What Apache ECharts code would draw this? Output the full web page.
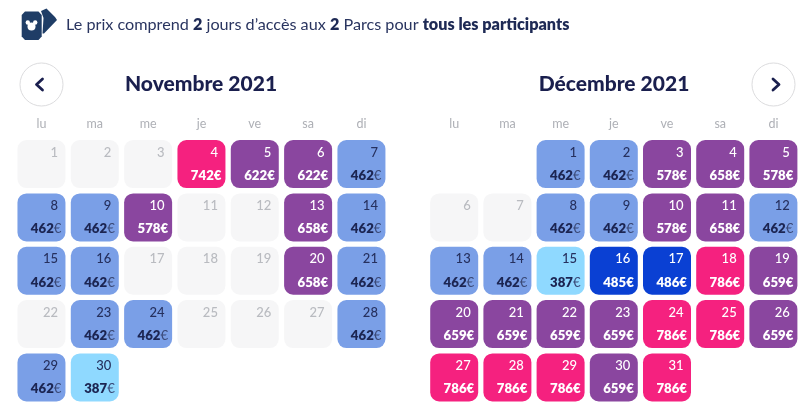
<!DOCTYPE html>
<html><head><meta charset="utf-8">
<style>html,body{margin:0;padding:0;background:#fff;overflow:hidden}#c{width:800px;height:413px}</style>
<script src="https://cdn.jsdelivr.net/npm/echarts@6/dist/echarts.min.js"></script>
</head><body><div id="c"></div>
<script>
const weekdays = ['lu','ma','me','je','ve','sa','di'];
const weeks = ['1','2','3','4','5'];
const novTitle = 'Novembre 2021';
const decTitle = 'Décembre 2021';
const novFirstWeekday = 0;
const decFirstWeekday = 2;
const novPrices = [null,null,null,742,622,622,462, 462,462,578,null,null,658,462, 462,462,null,null,null,658,462, null,462,462,null,null,null,462, 462,387];
const decPrices = [462,462,578,658,578, null,null,462,462,578,658,462, 462,462,387,485,486,786,659, 659,659,659,659,786,786,659, 786,786,786,659,786];
const tierColors = {none:'#f6f6f7', low:'#8fd9ff', mid:'#7a9fe7', blue:'#0a40d3', purple:'#8a469f', pink:'#f5217f'};
const font = 'Lato';
const navy = '#1a1f4e';

function tier(p){
  if(p==null) return 'none';
  if(p<400) return 'low';
  if(p<480) return 'mid';
  if(p<500) return 'blue';
  if(p<700) return 'purple';
  return 'pink';
}
function cells(prices, first){
  return prices.map((p,i)=>{
    const pos=i+first;
    return [weekdays[pos%7], weeks[Math.floor(pos/7)], i+1, p==null?'-':p];
  });
}
function renderCell(params, api){
  const pt=api.coord([api.value(0),api.value(1)]);
  const w=48, h=48;
  const x=pt[0]-w/2, y=pt[1]-h/2;
  const day=api.value(2);
  const raw=api.value(3);
  const price=(raw==='-'||isNaN(raw))?null:raw;
  const t=tier(price);
  const light=t==='low'||t==='mid';
  const dayColor=t==='none'?'#b9bbc0':(light?'#26305e':'#ffffff');
  const children=[{type:'rect',shape:{x:x,y:y,width:w,height:h,r:9},style:{fill:tierColors[t]}},
    {type:'text',style:{x:x+w-7.5,y:y+12.5,text:String(day),align:'right',verticalAlign:'middle',fill:dayColor,font:'500 13px '+font}}];
  if(price!=null){
    const fg=light?'#1c2552':'#ffffff';
    children.push({type:'text',style:{x:x+w-4,y:y+35.5,text:'{a|'+price+'}{b|€}',align:'right',verticalAlign:'middle',
      rich:{a:{fill:fg,font:'800 13.2px '+font},b:{fill:light?'#3b4a78':fg,font:(light?'400':'800')+' 13.2px '+font}}}});
  }
  return {type:'group',children:children};
}
function grid(left){return {left:left,width:373.3,top:137.4,height:266.7};}
function xAxis(i){return {type:'category',gridIndex:i,position:'top',data:weekdays,axisLine:{show:false},axisTick:{show:false},
  splitLine:{show:false},axisLabel:{color:'#aeb0b6',fontFamily:font,fontSize:12.5,margin:6.5}};}
function yAxis(i){return {type:'category',gridIndex:i,inverse:true,data:weeks,axisLine:{show:false},axisTick:{show:false},axisLabel:{show:false},splitLine:{show:false}};}
function series(i,data){return {type:'custom',xAxisIndex:i,yAxisIndex:i,data:data,renderItem:renderCell,encode:{x:0,y:1},clip:false};}

function chevron(cx,cy,dir){
  return {type:'polyline',shape:{points:[[cx-3*dir,cy-5.5],[cx+3*dir,cy],[cx-3*dir,cy+5.5]]},
    style:{stroke:navy,lineWidth:2.8,fill:null,lineCap:'round',lineJoin:'round'}};
}
const ticket='#1f3d66';
const chart=echarts.init(document.getElementById('c'),null,{renderer:'canvas'});
chart.setOption({
  animation:false,
  backgroundColor:'#fff',
  title:[
    {text:novTitle,left:196,top:79,textAlign:'center',textVerticalAlign:'middle',textStyle:{color:navy,fontFamily:font,fontWeight:900,fontSize:21}},
    {text:decTitle,left:609,top:79,textAlign:'center',textVerticalAlign:'middle',textStyle:{color:navy,fontFamily:font,fontWeight:900,fontSize:21}},
    {text:'{n|Le prix comprend }{b|2}{n| jours d’accès aux }{b|2}{n| Parcs pour }{b|tous les participants}',left:61,top:20,textVerticalAlign:'middle',
     textStyle:{rich:{n:{color:'#2a3560',fontFamily:font,fontSize:16.2,fontWeight:400},b:{color:'#1e2a55',fontFamily:font,fontSize:16.2,fontWeight:800}}}}
  ],
  graphic:[
    {type:'circle',shape:{cx:41.5,cy:84.5,r:21.5},style:{fill:'#fff',stroke:'#dcdcde',lineWidth:1}},
    chevron(39.5,84.5,-1),
    {type:'circle',shape:{cx:773.5,cy:84.5,r:21.5},style:{fill:'#fff',stroke:'#dcdcde',lineWidth:1}},
    chevron(776,84.5,1),
    {type:'polygon',shape:{points:[[41,11],[46.5,8.5],[55,17],[57,20],[44,33.5],[42.5,33.5],[43.5,18]]},style:{fill:ticket}},
    {type:'polygon',shape:{points:[[25,11.5],[38.5,11.5],[41.7,15],[41.7,36.5],[38.5,40],[25,40],[21.7,36.5],[21.7,15]]},style:{fill:ticket}},
    {type:'circle',shape:{cx:31.5,cy:26.5,r:4},style:{fill:'#fff'}},
    {type:'circle',shape:{cx:27.8,cy:22.5,r:2.2},style:{fill:'#fff'}},
    {type:'circle',shape:{cx:35.2,cy:22.5,r:2.2},style:{fill:'#fff'}}
  ],
  grid:[grid(14.8),grid(427.6)],
  xAxis:[xAxis(0),xAxis(1)],
  yAxis:[yAxis(0),yAxis(1)],
  series:[series(0,cells(novPrices,novFirstWeekday)),series(1,cells(decPrices,decFirstWeekday))]
});
</script></body></html>
